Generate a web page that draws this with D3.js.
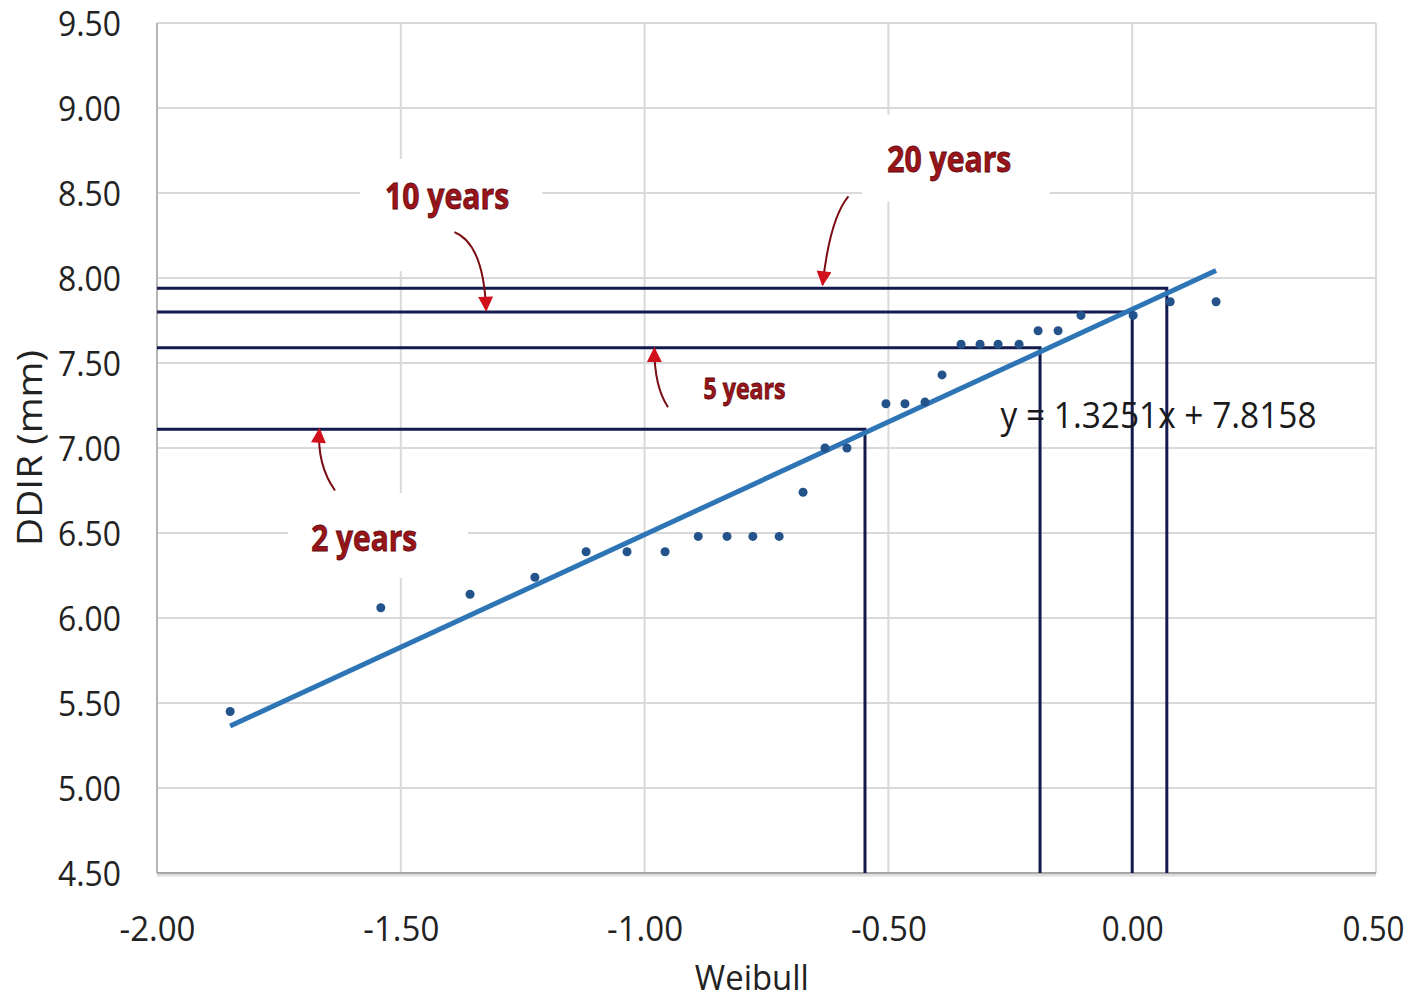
<!DOCTYPE html>
<html>
<head>
<meta charset="utf-8">
<script src="https://cdn.jsdelivr.net/npm/d3@7"></script>
<style>
  body { margin: 0; background: #fff; }
  text { font-family: 'Open Sans', 'Noto Sans', sans-serif; }
</style>
</head>
<body>
<div id="chart"></div>
<script>
// observed points (Weibull reduced variate vs DDIR)
var weibullX = [-1.850, -1.541, -1.358, -1.225, -1.120, -1.036, -0.958, -0.890, -0.831, -0.778,
  -0.724, -0.675, -0.630, -0.585, -0.505, -0.466, -0.425, -0.390, -0.351, -0.312,
  -0.275, -0.232, -0.193, -0.152, -0.105, 0.002, 0.078, 0.172];
var ddir = [5.45, 6.06, 6.14, 6.24, 6.39, 6.39, 6.39, 6.48, 6.48, 6.48,
  6.48, 6.74, 7.00, 7.00, 7.26, 7.26, 7.27, 7.43, 7.61, 7.61,
  7.61, 7.61, 7.69, 7.69, 7.78, 7.78, 7.86, 7.86];

// linear trend
var slope = 1.3251;
var intercept = 7.8158;

// return periods
var periodNames = ['2 years', '5 years', '10 years', '20 years'];
var periodX = [-0.548, -0.189, 0.000, 0.071];
var periodY = [7.11, 7.59, 7.80, 7.94];

var xTicks = [-2.0, -1.5, -1.0, -0.5, 0.0, 0.5];
var yTicks = [4.5, 5.0, 5.5, 6.0, 6.5, 7.0, 7.5, 8.0, 8.5, 9.0, 9.5];

(function () {
  var width = 1409;
  var height = 1001;
  var margin = { top: 23, right: 33, bottom: 128, left: 157 };

  var x = d3.scaleLinear().domain([-2, 0.5]).range([margin.left, width - margin.right]);
  var y = d3.scaleLinear().domain([4.5, 9.5]).range([height - margin.bottom, margin.top]);
  // plain hyphen for negatives, like the spreadsheet
  var fmt = function (d) { return d3.format('.2f')(d).replace('\u2212', '-'); };

  var svg = d3.select('#chart').append('svg')
    .attr('width', width)
    .attr('height', height);

  var defs = svg.append('defs');
  defs.append('marker')
    .attr('id', 'head')
    .attr('viewBox', '0 0 10 10')
    .attr('refX', 9)
    .attr('refY', 5)
    .attr('markerWidth', 18)
    .attr('markerHeight', 15)
    .attr('markerUnits', 'userSpaceOnUse')
    .attr('orient', 'auto')
    .append('path')
    .attr('d', 'M0,0 L10,5 L0,10 Z')
    .style('fill', '#d0101a');

  // grid
  var grid = svg.append('g').attr('class', 'grid');
  grid.selectAll('.hgrid')
    .data(yTicks)
    .enter()
    .append('line')
    .attr('x1', x(-2)).attr('x2', x(0.5))
    .attr('y1', function (d) { return y(d); })
    .attr('y2', function (d) { return y(d); })
    .style('stroke', '#d9d9d9')
    .style('stroke-width', 2);
  grid.selectAll('.vgrid')
    .data(xTicks)
    .enter()
    .append('line')
    .attr('y1', y(4.5)).attr('y2', y(9.5))
    .attr('x1', function (d) { return x(d); })
    .attr('x2', function (d) { return x(d); })
    .style('stroke', '#d9d9d9')
    .style('stroke-width', 2);

  // frame on the left and bottom
  svg.append('line')
    .attr('x1', x(-2)).attr('x2', x(-2))
    .attr('y1', y(9.5)).attr('y2', y(4.5))
    .style('stroke', '#b5b5b5').style('stroke-width', 2);
  svg.append('line')
    .attr('x1', x(-2)).attr('x2', x(0.5))
    .attr('y1', y(4.5) + 2).attr('y2', y(4.5) + 2)
    .style('stroke', '#dddddd').style('stroke-width', 3);
  svg.append('line')
    .attr('x1', x(-2)).attr('x2', x(0.5))
    .attr('y1', y(4.5)).attr('y2', y(4.5))
    .style('stroke', '#a6a6a6').style('stroke-width', 2);

  // y axis labels
  var yAxis = svg.append('g')
    .attr('transform', 'translate(' + (x(-2) - 36) + ',0)')
    .call(d3.axisLeft(y).tickValues(yTicks).tickSize(0).tickFormat(fmt));
  yAxis.select('.domain').remove();
  yAxis.selectAll('text')
    .attr('x', 0)
    .attr('dy', '0.36em')
    .attr('textLength', 63)
    .attr('lengthAdjust', 'spacingAndGlyphs')
    .style('font-size', '34px')
    .style('font-family', "'Open Sans', sans-serif")
    .style('fill', '#222');

  // x axis labels
  var xAxis = svg.append('g')
    .attr('transform', 'translate(0,' + (y(4.5) + 44) + ')')
    .call(d3.axisBottom(x).tickValues(xTicks).tickSize(0).tickFormat(fmt));
  xAxis.select('.domain').remove();
  xAxis.selectAll('text')
    .attr('y', 0)
    .attr('dy', '0.71em')
    .attr('textLength', function (d) { return d < 0 ? 76 : 62; })
    .attr('lengthAdjust', 'spacingAndGlyphs')
    .style('font-size', '34px')
    .style('font-family', "'Open Sans', sans-serif")
    .style('fill', '#222');
  // keep the last label inside the page
  xAxis.selectAll('.tick').filter(function (d) { return d === 0.5; })
    .select('text').attr('x', -3);

  svg.append('text')
    .attr('x', x(-0.78))
    .attr('y', 990)
    .attr('text-anchor', 'middle')
    .attr('textLength', 114)
    .attr('lengthAdjust', 'spacingAndGlyphs')
    .style('font-size', '34px')
    .style('fill', '#222')
    .text('Weibull');

  svg.append('text')
    .attr('transform', 'translate(42,' + y(7.0) + ') rotate(-90)')
    .attr('x', 0)
    .attr('y', 0)
    .attr('text-anchor', 'middle')
    .attr('textLength', 196)
    .attr('lengthAdjust', 'spacingAndGlyphs')
    .style('font-size', '34px')
    .style('fill', '#222')
    .text('DDIR (mm)');

  // white label boxes (hide the grid behind the annotations)
  var boxes = [
    { x0: -1.731, x1: -1.362, y0: 6.235, y1: 6.735 },
    { x0: -0.931, x1: -0.579, y0: 7.19, y1: 7.49 },
    { x0: -1.584, x1: -1.21, y0: 8.04, y1: 8.70 },
    { x0: -0.554, x1: -0.169, y0: 8.45, y1: 8.96 }
  ];
  svg.append('g').selectAll('rect')
    .data(boxes)
    .enter()
    .append('rect')
    .attr('x', function (d) { return x(d.x0); })
    .attr('y', function (d) { return y(d.y1); })
    .attr('width', function (d) { return x(d.x1) - x(d.x0); })
    .attr('height', function (d) { return y(d.y0) - y(d.y1); })
    .style('fill', '#fff');

  // return period drop lines
  var drops = svg.append('g').attr('class', 'drops');
  periodX.forEach(function (px, i) {
    drops.append('path')
      .attr('d', 'M' + x(-2) + ',' + y(periodY[i]) + 'H' + x(px) + 'V' + y(4.5))
      .style('fill', 'none')
      .style('stroke', '#141a4d')
      .style('stroke-width', 3);
  });

  // trend line
  var xExt = d3.extent(weibullX);
  svg.append('line')
    .attr('x1', x(xExt[0])).attr('y1', y(slope * xExt[0] + intercept))
    .attr('x2', x(xExt[1])).attr('y2', y(slope * xExt[1] + intercept))
    .style('stroke', '#2e75b6')
    .style('stroke-width', 5);

  // points
  svg.append('g').selectAll('circle')
    .data(weibullX)
    .enter()
    .append('circle')
    .attr('cx', function (d) { return x(d); })
    .attr('cy', function (d, i) { return y(ddir[i]); })
    .attr('r', 4.5)
    .style('fill', '#24528a');

  // equation
  svg.append('text')
    .attr('x', x(-0.27))
    .attr('y', y(7.0) - 20)
    .attr('textLength', 316)
    .attr('lengthAdjust', 'spacingAndGlyphs')
    .style('font-size', '36px')
    .style('fill', '#1a1a1a')
    .text('y = ' + slope.toFixed(4) + 'x + ' + intercept.toFixed(4));

  // annotations: label centre, arrow start, control, tip (data units)
  var notes = [
    { lx: -1.575, ly: 6.47, len: 106, size: 35, sx: -1.635, sy: 6.75, cx: -1.672, cy: 6.90, tx: -1.667, ty: 7.11 },
    { lx: -0.795, ly: 7.35, len: 82, size: 28, sx: -0.952, sy: 7.24, cx: -0.980, cy: 7.36, tx: -0.980, ty: 7.585 },
    { lx: -1.405, ly: 8.48, len: 124, size: 35, sx: -1.39, sy: 8.27, cx: -1.33, cy: 8.20, tx: -1.325, ty: 7.81 },
    { lx: -0.375, ly: 8.70, len: 124, size: 35, sx: -0.582, sy: 8.48, cx: -0.62, cy: 8.35, tx: -0.635, ty: 7.96 }
  ];
  var ann = svg.append('g').attr('class', 'notes');
  notes.forEach(function (n, i) {
    ann.append('path')
      .attr('d', 'M' + x(n.sx) + ',' + y(n.sy) + 'Q' + x(n.cx) + ',' + y(n.cy) + ' ' + x(n.tx) + ',' + y(n.ty))
      .attr('marker-end', 'url(#head)')
      .style('fill', 'none')
      .style('stroke', '#7a0c12')
      .style('stroke-width', 2);
    ann.append('text')
      .attr('x', x(n.lx))
      .attr('y', y(n.ly))
      .attr('dy', '0.36em')
      .attr('text-anchor', 'middle')
      .attr('textLength', n.len)
      .attr('lengthAdjust', 'spacingAndGlyphs')
      .style('font-size', n.size + 'px')
      .style('font-weight', 'bold')
      .style('fill', '#9a1419')
      .style('stroke', '#5c0a0e')
      .style('stroke-width', 0.8)
      .text(periodNames[i]);
  });
})();
</script>
</body>
</html>
